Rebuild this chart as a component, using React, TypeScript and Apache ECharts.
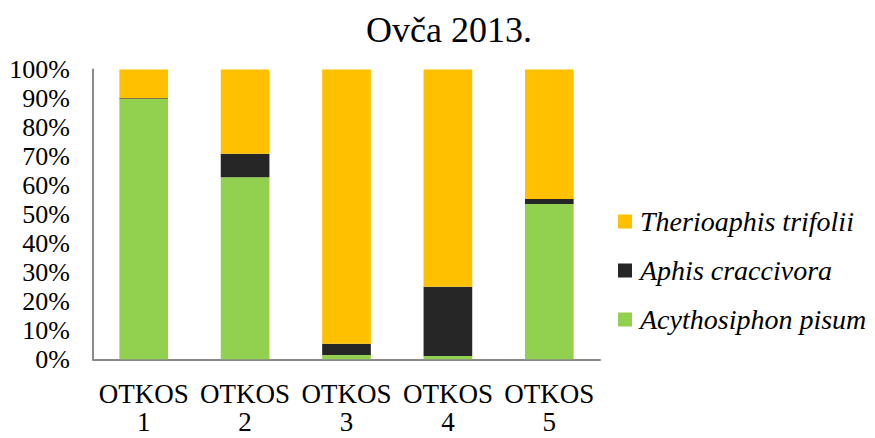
import React, { useEffect, useRef } from "react";
import * as echarts from "echarts";

const categories = ["OTKOS\n1", "OTKOS\n2", "OTKOS\n3", "OTKOS\n4", "OTKOS\n5"];
const acythosiphon = [89.8, 62.8, 1.5, 1.1, 53.6];
const aphis = [0.3, 8.1, 3.9, 23.9, 1.7];
const therioaphis = [9.9, 29.1, 94.6, 75.0, 44.7];
const seriesNames = ["Acythosiphon pisum", "Aphis craccivora", "Therioaphis trifolii"];
const legendOrder = ["Therioaphis trifolii", "Aphis craccivora", "Acythosiphon pisum"];
const colors = ["#92D050", "#262626", "#FFC000"];
const FONT = "Liberation Serif";

export default function App() {
  const ref = useRef<HTMLDivElement>(null);
  useEffect(() => {
    if (!ref.current) return;
    const chart = echarts.init(ref.current, undefined, { renderer: "svg" });
    const values = [acythosiphon, aphis, therioaphis];
    chart.setOption({
      animation: false,
      backgroundColor: "#ffffff",
      textStyle: { fontFamily: FONT },
      title: {
        text: "Ovča 2013.",
        left: 449,
        top: 12,
        textAlign: "center",
        padding: 0,
        textStyle: { fontFamily: FONT, fontSize: 36, fontWeight: "normal", color: "#000", lineHeight: 36 },
      },
      legend: {
        orient: "vertical",
        left: 613,
        top: 201,
        itemWidth: 14,
        itemHeight: 14,
        itemGap: 18,
        icon: "rect",
        data: legendOrder,
        textStyle: { fontFamily: FONT, fontSize: 28, fontStyle: "italic", color: "#000", lineHeight: 31, padding: [0, 0, 0, 3] },
      },
      grid: { left: 93, right: 275, top: 69.5, bottom: 78.7, containLabel: false, outerBoundsMode: "none" },
      xAxis: {
        type: "category",
        data: categories,
        axisLine: { show: true, lineStyle: { color: "#8a8a8a", width: 2 } },
        axisTick: { show: false },
        axisLabel: {
          fontFamily: FONT,
          fontSize: 27,
          color: "#000",
          margin: 18,
          interval: 0,
          formatter: (v: string) => {
            const [a, b] = v.split("\n");
            return `{a|${a}}\n{b|${b}}`;
          },
          rich: {
            a: { fontFamily: FONT, fontSize: 27, color: "#000", lineHeight: 34 },
            b: { fontFamily: FONT, fontSize: 27, color: "#000", lineHeight: 22 },
          },
        },
      },
      yAxis: {
        type: "value",
        min: 0,
        max: 100,
        interval: 10,
        axisLine: { show: true, lineStyle: { color: "#8a8a8a", width: 2 } },
        axisTick: { show: false },
        splitLine: { show: false },
        axisLabel: { fontFamily: FONT, fontSize: 26, color: "#000", margin: 23, formatter: "{value}%" },
      },
      series: seriesNames.map((name, i) => ({
        name,
        type: "bar",
        stack: "total",
        barWidth: "48%",
        data: values[i],
        itemStyle: { color: colors[i] },
      })),
    });
    return () => chart.dispose();
  }, []);
  return <div ref={ref} style={{ position: "fixed", left: 0, top: 0, width: 875, height: 438 }} />;
}
